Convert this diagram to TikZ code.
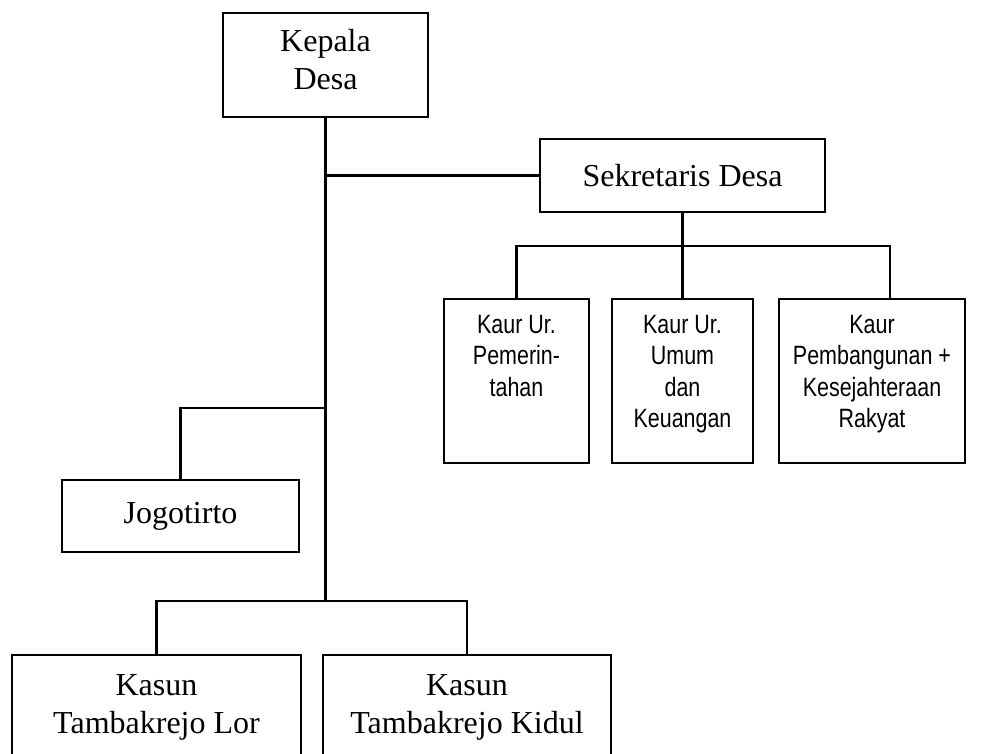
\documentclass[tikz,border=0pt]{standalone}
\usepackage{fontspec}
\setmainfont{Liberation Serif}
\newfontfamily\narrowsans[FakeStretch=0.81]{Liberation Sans}
\usetikzlibrary{positioning}

% text of the Kaur boxes starts at the top of the box
\newcommand{\toplines}[1]{\vbox to 82pt{\vskip 6pt\hbox{\begin{tabular}{@{}c@{}}#1\end{tabular}}\vfil}}

\begin{document}
\begin{tikzpicture}[x=0.5pt, y=-0.5pt, line width=1.1pt, align=center,
    font=\fontsize{16}{19}\selectfont,
    box/.style={draw, rectangle, inner sep=0pt},
    kaurbox/.style={box, anchor=north, minimum height=82pt,
      font=\narrowsans\fontsize{13.25}{15.75}\selectfont},
    kasunbox/.style={box, anchor=north, minimum width=144.5pt, minimum height=52pt}]
    \useasboundingbox (0,0) rectangle (986,754);
    \clip (0,0) rectangle (986,754);

    % Nodes
    \node [box, minimum width=102.5pt, minimum height=52pt] (kades) at (325.5,64.7) {Kepala\\Desa\strut};
    \node [box, minimum width=142.5pt, minimum height=36.5pt] (sekdes) at (682.5,175.5) {Sekretaris Desa};
    \node [kaurbox, minimum width=72.5pt] (kaurpem) at (516.5,298) {\toplines{Kaur Ur.\\Pemerin-\\tahan}};
    \node [kaurbox, minimum width=70.5pt] (kaurumum) at (682.5,298) {\toplines{Kaur Ur.\\Umum\\dan\\Keuangan}};
    \node [kaurbox, minimum width=93pt] (kaurbang) at (872,298) {\toplines{Kaur\\Pembangunan +\\Kesejahteraan\\Rakyat}};
    \node [box, minimum width=118.5pt, minimum height=36pt] (jogo) at (180.5,516) {Jogotirto};
    \node [kasunbox] (kasunlor) at (156.5,654) {Kasun\\Tambakrejo Lor};
    \node [kasunbox, minimum width=144pt] (kasunkidul) at (467,654) {Kasun\\Tambakrejo Kidul};

    \coordinate (trunkend) at (326,601);
    \coordinate (jogobr) at (326,408);
    \coordinate (kaurbar) at (682.5,246);

    % Lines
    \draw (kades.south) -- (kades.south |- trunkend);
    \draw (kades.south |- sekdes.west) -- (sekdes.west);
    \draw (sekdes.south) -- (kaurbar);
    \draw (kaurpem.north) |- (kaurbar) -| ([xshift=9pt]kaurbang.north);
    \draw (kaurbar) -- (kaurumum.north);
    \draw (jogobr) -| (jogo.north);
    \draw (kasunlor.north) |- (trunkend) -| (kasunkidul.north);
\end{tikzpicture}
\end{document}
